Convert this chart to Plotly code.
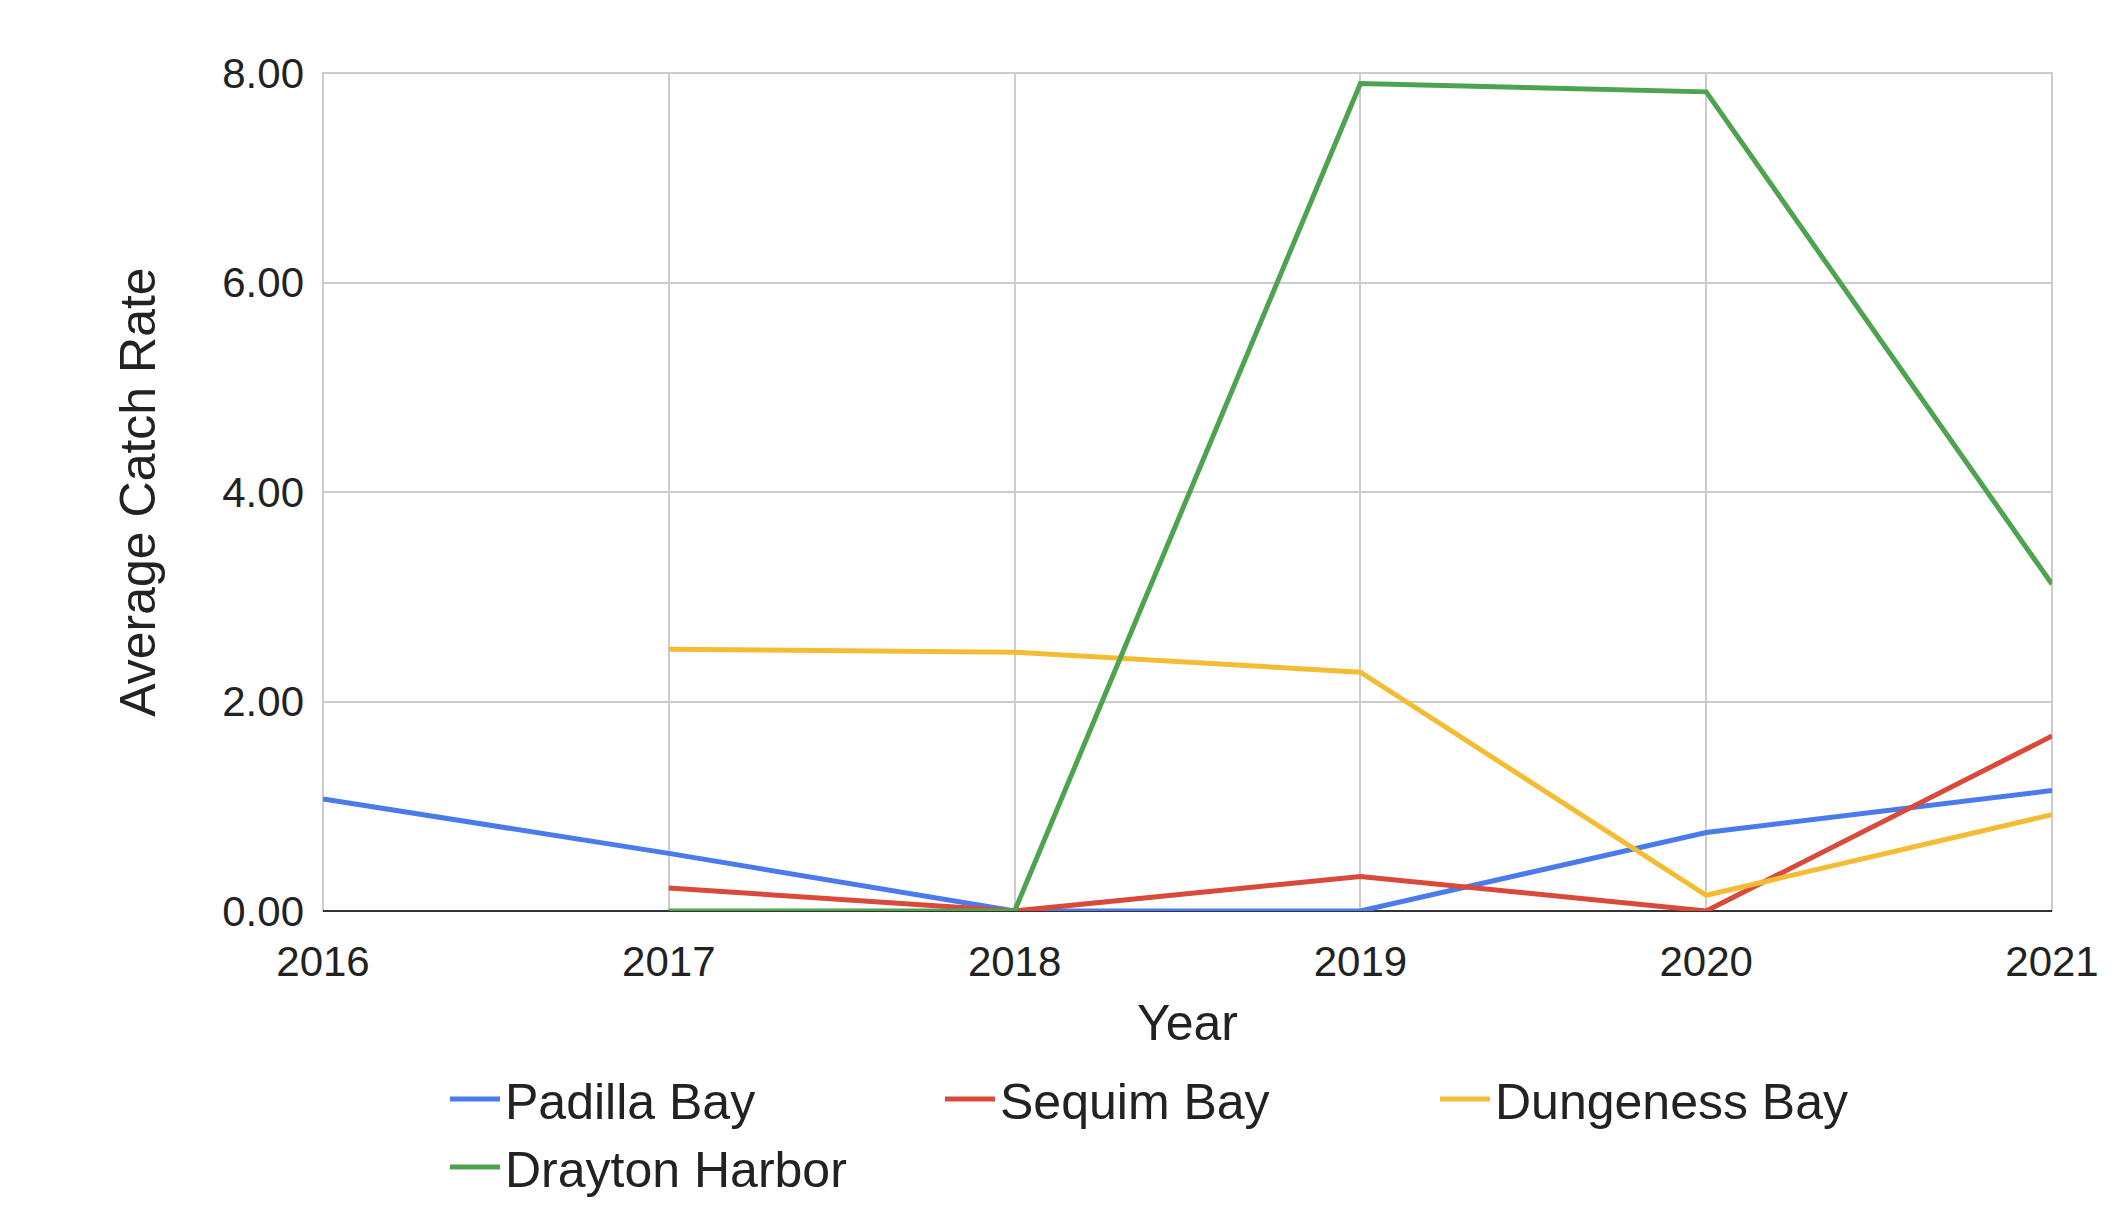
import plotly.graph_objects as go

years = [2016, 2017, 2018, 2019, 2020, 2021]
padilla = [1.07, 0.55, 0.0, 0.0, 0.75, 1.15]
sequim = [None, 0.22, 0.0, 0.33, 0.0, 1.67]
dungeness = [None, 2.50, 2.47, 2.28, 0.15, 0.92]
drayton = [None, 0.0, 0.0, 7.90, 7.82, 3.12]

series = [
    ("Padilla Bay", padilla, "#4a7bec"),
    ("Sequim Bay", sequim, "#d94a3b"),
    ("Dungeness Bay", dungeness, "#f4bc33"),
    ("Drayton Harbor", drayton, "#4ea34f"),
]

fig = go.Figure()
for name, vals, col in series:
    fig.add_trace(go.Scatter(x=years, y=vals, name=name, mode="lines",
                             line=dict(color=col, width=5)))

fig.update_layout(
    width=2116, height=1214,
    paper_bgcolor="white", plot_bgcolor="white",
    font=dict(family="Liberation Sans, Arial", size=42, color="#222"),
    margin=dict(l=315, r=72, t=65, b=311),
    legend=dict(orientation="h", x=0.5, xanchor="center", y=-0.265, yanchor="middle",
                font=dict(size=50), itemwidth=50, entrywidth=430, entrywidthmode="pixels"),
    xaxis=dict(title=dict(text="Year", font=dict(size=50), standoff=20),
               tickvals=years, range=[2016, 2021], showgrid=True,
               gridcolor="#cccccc", gridwidth=2, zeroline=False,
               showline=False, ticks="", ticklabelstandoff=22),
    yaxis=dict(title=dict(text="Average Catch Rate", font=dict(size=50), standoff=50),
               range=[0, 8], dtick=2, tickformat=".2f", gridcolor="#cccccc",
               gridwidth=2, zeroline=True, zerolinecolor="#333", zerolinewidth=2,
               ticks="", ticklabelstandoff=18),
)
fig.add_shape(type="rect", xref="paper", yref="paper", x0=0, x1=1, y0=0, y1=1,
              line=dict(color="#cccccc", width=2), layer="below")
fig.write_html("out.html")
